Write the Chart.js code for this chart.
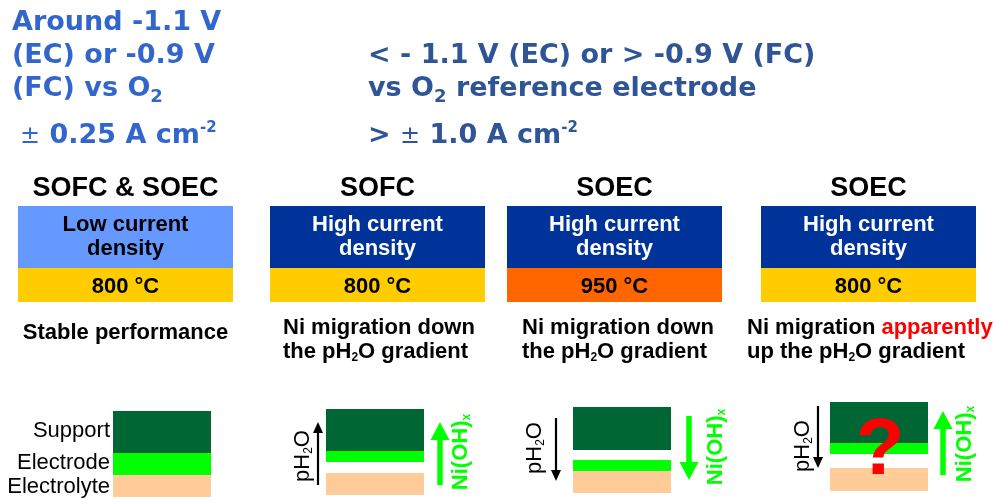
<!DOCTYPE html>
<html>
<head>
<meta charset="utf-8">
<script src="https://cdn.jsdelivr.net/npm/chart.js@4.4.1/dist/chart.umd.min.js"></script>
<style>
  html, body { margin: 0; padding: 0; background: #fff; overflow: hidden; }
  canvas { display: block; }
</style>
</head>
<body>
<canvas id="diagram" width="993" height="499" style="width:993px;height:499px"></canvas>
<script>
// Textos y valores del diagrama
// _{..} subíndice, ^{..} superíndice, *{..} en rojo, ~{..} sin negrita
const headerLeft = ['Around -1.1 V', '(EC) or -0.9 V', '(FC) vs O_{2}'];
const currentLeft = '~{±} 0.25 A cm^{-2}';
const headerRight = ['< - 1.1 V (EC) or > -0.9 V (FC)', 'vs O_{2} reference electrode'];
const currentRight = '> ~{±} 1.0 A cm^{-2}';

const cellTypes = ['SOFC & SOEC', 'SOFC', 'SOEC', 'SOEC'];
const currentDensity = [
    ['Low current', 'density'],
    ['High current', 'density'],
    ['High current', 'density'],
    ['High current', 'density']
];
const temperatures = ['800 °C', '800 °C', '950 °C', '800 °C'];
const outcomes = [
    ['Stable performance'],
    ['Ni migration down', 'the pH_{2}O gradient'],
    ['Ni migration down', 'the pH_{2}O gradient'],
    ['Ni migration *{apparently}', 'up the pH_{2}O gradient']
];
const layerNames = ['Support', 'Electrode', 'Electrolyte'];
const pH2OLabel = 'pH_{2}O';
const niLabel = 'Ni(OH)_{x}';
// +1 = flecha hacia arriba, -1 = hacia abajo, 0 = sin flecha
const pH2ODirection = [0, 1, -1, -1];
const niDirection = [0, 1, -1, 1];
const uncertain = [false, false, false, true];

// Geometría (en unidades de las escalas, 1 unidad = 1 px)
const boxLeft = [18, 270, 507, 761];
const boxWidth = 215;
const boxTop = 206, boxSplit = 268, boxBottom = 302;

const stackLeft = [113, 326, 573, 830];
const stackWidth = 98;
const supportTop = [411, 409, 407, 402];
const supportBottom = [453, 451, 450, 443];
const electrodeTop = [453, 451, 460, 443];
const electrodeBottom = [475, 462, 471, 454];
const electrolyteTop = [475, 473, 471, 468];
const electrolyteBottom = [497, 495, 493, 491];

const pH2OArrowX = [0, 318, 556, 818];
const pH2OArrowSpan = [null, [485, 422], [418, 481], [406, 468]];
const pH2OTextPos = [null, [301, 456], [533, 448], [801, 446]];
const niArrowX = [0, 440, 689, 943];
const niArrowSpan = [null, [485, 422], [416, 480], [475, 411]];
const niTextPos = [null, [459, 452], [714, 447], [963, 444]];

// Colores
const topColors = ['#6699FF', '#003399', '#003399', '#003399'];
const topTextColors = ['#000000', '#FFFFFF', '#FFFFFF', '#FFFFFF'];
const tempColors = ['#FFCC00', '#FFCC00', '#FF6600', '#FFCC00'];
const layerColors = ['#006633', '#00FF00', '#FFCC99'];

const ARIAL = '"Liberation Sans", Arial, sans-serif';
const VERDANA = '"DejaVu Sans", Verdana, sans-serif';

// Rectángulos como barras flotantes horizontales
function rect(x0, x1, y0, y1, color) {
    return {
        data: [{ x: [x0, x1], y: (y0 + y1) / 2 }],
        backgroundColor: color,
        barThickness: y1 - y0,
        borderWidth: 0,
        inflateAmount: 0,
        stack: 's'
    };
}

const datasets = [];
for (let i = 0; i < 4; i++) {
    datasets.push(rect(boxLeft[i], boxLeft[i] + boxWidth, boxTop, boxSplit, topColors[i]));
    datasets.push(rect(boxLeft[i], boxLeft[i] + boxWidth, boxSplit, boxBottom, tempColors[i]));
    const x0 = stackLeft[i], x1 = stackLeft[i] + stackWidth;
    datasets.push(rect(x0, x1, supportTop[i], supportBottom[i], layerColors[0]));
    datasets.push(rect(x0, x1, electrodeTop[i], electrodeBottom[i], layerColors[1]));
    datasets.push(rect(x0, x1, electrolyteTop[i], electrolyteBottom[i], layerColors[2]));
}

// Texto con subíndices / superíndices
function parseRich(str) {
    const out = [];
    str.split(/(_\{[^}]*\}|\^\{[^}]*\}|\*\{[^}]*\}|~\{[^}]*\})/).forEach(p => {
        if (!p) return;
        const k = p.slice(0, 2);
        if (k === '_{') out.push({ t: p.slice(2, -1), kind: 'sub' });
        else if (k === '^{') out.push({ t: p.slice(2, -1), kind: 'sup' });
        else if (k === '*{') out.push({ t: p.slice(2, -1), kind: 'red' });
        else if (k === '~{') out.push({ t: p.slice(2, -1), kind: 'thin' });
        else out.push({ t: p, kind: 'n' });
    });
    return out;
}

function drawRich(ctx, str, x, y, o) {
    const segs = parseRich(str);
    const fontFor = kind => {
        let size = o.size;
        let weight = o.weight;
        if (kind === 'sub') size = Math.round(o.size * (o.subScale || 0.65));
        if (kind === 'sup') size = Math.round(o.size * 0.55);
        if (kind === 'thin') { weight = 'normal'; size = Math.round(o.size * 0.9); }
        return weight + ' ' + size + 'px ' + o.family;
    };
    let total = 0;
    segs.forEach(s => {
        ctx.font = fontFor(s.kind);
        s.w = ctx.measureText(s.t).width;
        total += s.w;
    });
    let cx = x;
    if (o.align === 'center') cx = x - total / 2;
    if (o.align === 'right') cx = x - total;
    ctx.textAlign = 'left';
    ctx.textBaseline = 'alphabetic';
    segs.forEach(s => {
        ctx.font = fontFor(s.kind);
        ctx.fillStyle = s.kind === 'red' ? '#FF0000' : o.color;
        let dy = 0;
        if (s.kind === 'sub') dy = o.size * (o.subDrop || 0.22);
        if (s.kind === 'sup') dy = -o.size * 0.4;
        ctx.fillText(s.t, cx, y + dy);
        cx += s.w;
    });
}

function drawArrow(ctx, x, yTail, yHead, shaft, headW, headL, color) {
    const dir = yHead < yTail ? -1 : 1;
    const neck = yHead - dir * headL;
    ctx.fillStyle = color;
    ctx.fillRect(x - shaft / 2, Math.min(yTail, neck), shaft, Math.abs(neck - yTail));
    ctx.beginPath();
    ctx.moveTo(x, yHead);
    ctx.lineTo(x - headW / 2, neck);
    ctx.lineTo(x + headW / 2, neck);
    ctx.closePath();
    ctx.fill();
}

const textPlugin = {
    id: 'textPlugin',
    afterDatasetsDraw(chart) {
        const ctx = chart.ctx;
        const sx = v => chart.scales.x.getPixelForValue(v);
        const sy = v => chart.scales.y.getPixelForValue(v);
        ctx.save();

        // Encabezados en azul
        const hl = { size: 27, weight: 'bold', family: VERDANA, color: '#3366CC', align: 'left' };
        const hr = { size: 27, weight: 'bold', family: VERDANA, color: '#2F5597', align: 'left' };
        [30, 63, 96].forEach((b, i) => drawRich(ctx, headerLeft[i], sx(12), sy(b), hl));
        drawRich(ctx, currentLeft, sx(20), sy(143), hl);
        [63, 96].forEach((b, i) => drawRich(ctx, headerRight[i], sx(368), sy(b), hr));
        drawRich(ctx, currentRight, sx(368), sy(143), hr);

        for (let i = 0; i < 4; i++) {
            const cx = sx(boxLeft[i] + boxWidth / 2);
            drawRich(ctx, cellTypes[i], cx, sy(196), { size: 27, weight: 'bold', family: ARIAL, color: '#000', align: 'center' });
            const bt = { size: 22, weight: 'bold', family: ARIAL, color: topTextColors[i], align: 'center' };
            drawRich(ctx, currentDensity[i][0], cx, sy(231), bt);
            drawRich(ctx, currentDensity[i][1], cx, sy(255), bt);
            drawRich(ctx, temperatures[i], cx, sy(293), { size: 22, weight: 'bold', family: ARIAL, color: '#000', align: 'center' });

            const ot = { size: 22, weight: 'bold', family: ARIAL, color: '#000', align: 'left', subScale: 0.55, subDrop: 0.15 };
            if (outcomes[i].length === 1) {
                drawRich(ctx, outcomes[i][0], cx, sy(339), Object.assign({}, ot, { align: 'center' }));
            } else {
                const lx = [0, 283, 522, 747][i];
                drawRich(ctx, outcomes[i][0], sx(lx), sy(334), ot);
                drawRich(ctx, outcomes[i][1], sx(lx), sy(358), ot);
            }

            // Flechas y etiquetas giradas
            if (pH2ODirection[i] !== 0) {
                const sp = pH2OArrowSpan[i];
                drawArrow(ctx, sx(pH2OArrowX[i]), sy(sp[0]), sy(sp[1]), 2.2, 10, 11, '#000000');
                const tp = pH2OTextPos[i];
                ctx.save();
                ctx.translate(sx(tp[0]), sy(tp[1]));
                ctx.rotate(-Math.PI / 2);
                drawRich(ctx, pH2OLabel, 0, 22 * 0.36, { size: 22, weight: 'normal', family: ARIAL, color: '#000', align: 'center', subScale: 0.55, subDrop: 0.15 });
                ctx.restore();
            }
            if (niDirection[i] !== 0) {
                const sp = niArrowSpan[i];
                drawArrow(ctx, sx(niArrowX[i]), sy(sp[0]), sy(sp[1]), 5.5, 19, 18, '#00FF00');
                const tp = niTextPos[i];
                ctx.save();
                ctx.translate(sx(tp[0]), sy(tp[1]));
                ctx.rotate(-Math.PI / 2);
                drawRich(ctx, niLabel, 0, 22 * 0.36, { size: 22, weight: 'bold', family: ARIAL, color: '#00FF00', align: 'center', subScale: 0.55, subDrop: 0.15 });
                ctx.restore();
            }
            if (uncertain[i]) {
                ctx.font = 'bold 80px ' + ARIAL;
                ctx.fillStyle = '#FF0000';
                ctx.textAlign = 'center';
                ctx.textBaseline = 'alphabetic';
                ctx.fillText('?', sx(stackLeft[i] + stackWidth / 2 + 1), sy(474));
            }
        }

        // Nombres de las capas
        const ln = { size: 22, weight: 'normal', family: ARIAL, color: '#000', align: 'right' };
        drawRich(ctx, layerNames[0], sx(110), sy(437), ln);
        drawRich(ctx, layerNames[1], sx(110), sy(469), ln);
        drawRich(ctx, layerNames[2], sx(110), sy(493), ln);

        ctx.restore();
    }
};

new Chart(document.getElementById('diagram').getContext('2d'), {
    type: 'bar',
    data: { datasets: datasets },
    options: {
        indexAxis: 'y',
        responsive: false,
        animation: false,
        events: [],
        layout: { padding: 0 },
        plugins: { legend: { display: false }, tooltip: { enabled: false } },
        scales: {
            x: { type: 'linear', min: 0, max: 993, display: false, stacked: false },
            y: { type: 'linear', min: 0, max: 499, reverse: true, display: false, offset: false }
        }
    },
    plugins: [textPlugin]
});
</script>
</body>
</html>
